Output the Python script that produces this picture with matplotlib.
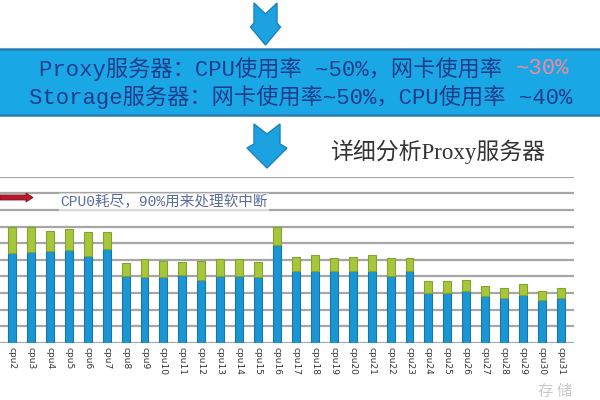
import matplotlib
matplotlib.use("Agg")
from matplotlib import pyplot as plt
from matplotlib.patches import Polygon, Rectangle, FancyArrow
import numpy as np

# ------------------------------------------------------------------
# Datos
# ------------------------------------------------------------------
cpus = ["cpu%d" % i for i in range(2, 32)]
# parte azul (abajo) y total (arriba) en %
azul = [54, 55, 55.4, 56, 52.4, 56.4, 40, 39.6, 39.6, 41,
        38, 40.4, 40.4, 39.6, 58.8, 43, 43, 43, 43, 43,
        40.4, 43, 30, 30.3, 31, 28, 27, 29, 26, 27]
total = [69.7, 70, 67.5, 68.5, 66.5, 67, 48.4, 50.4, 49.4, 48.8,
         49.6, 50.4, 50.4, 48.8, 69.7, 52, 53, 51, 51.6, 52.8,
         51.2, 51.4, 37.3, 37.3, 37.8, 34.3, 33, 35.4, 31.5, 33.3]
verde = [t - a for t, a in zip(total, azul)]
grid_vals = list(range(0, 101, 10))

linea1 = "Proxy服务器：CPU使用率 ~50%，网卡使用率 "
linea1_rojo = "~30%"
linea2 = "Storage服务器：网卡使用率~50%，CPU使用率 ~40%"
titulo = "详细分析Proxy服务器"
nota = "CPU0耗尽，90%用来处理软中断"

fuente_banner = ["Liberation Mono", "Noto Sans CJK SC"]
fuente_titulo = ["Liberation Serif", "Noto Sans CJK SC"]

W, H = 600, 400
fig = plt.figure(figsize=(6, 4), dpi=100)

# ------------------------------------------------------------------
# Gráfica de barras
# ------------------------------------------------------------------
ax = fig.add_axes([0, 1 - 343 / H, 574 / W, (343 - 176.7) / H])
x = np.arange(len(cpus))
for g in grid_vals:
    ax.axhline(g, color="#a6a6a6", lw=1.6, zorder=0)
ax.bar(x, azul, width=0.42, color="#1b96d2", edgecolor="#1676ad", lw=0.8, zorder=2)
ax.bar(x, verde, width=0.42, bottom=azul, color="#a6c63c", edgecolor="#86a22c", lw=0.8, zorder=2)
ax.set_xlim(-0.634, 29.69)
ax.set_ylim(0, 100)
ax.set_yticks([])
ax.set_xticks(x)
ax.set_xticklabels(cpus, rotation=270, fontsize=6.5, color="#333333")
ax.tick_params(axis="x", length=0, pad=3)
for s in ax.spines.values():
    s.set_visible(False)
ax.patch.set_alpha(0)

# ------------------------------------------------------------------
# Capa en píxeles para el banner, flechas y textos
# ------------------------------------------------------------------
ov = fig.add_axes([0, 0, 1, 1], zorder=5)
ov.set_xlim(0, W)
ov.set_ylim(H, 0)
ov.axis("off")
ov.patch.set_alpha(0)

# banner azul
ov.add_patch(Rectangle((-2, 49), W + 4, 66, facecolor="#1aa7e6", edgecolor="#2a7db3", lw=1.8))
t1 = ov.text(39, 69, linea1, fontsize=16, color="#1f3d8c", family=fuente_banner,
             va="center", ha="left")
ov.annotate(linea1_rojo, xy=(1, 0.5), xycoords=t1, fontsize=16, color="#f08a9a",
            family=fuente_banner, va="center", ha="left")
ov.text(301, 97, linea2, fontsize=16, color="#1f3d8c", family=fuente_banner,
        va="center", ha="center")


def flecha(cx, top, notch, shaft_bot, tip, half_shaft, half_head):
    pts = [(cx - half_shaft, top), (cx, notch), (cx + half_shaft, top),
           (cx + half_shaft, shaft_bot), (cx + half_head, shaft_bot + 4),
           (cx, tip), (cx - half_head, shaft_bot + 4), (cx - half_shaft, shaft_bot)]
    ov.add_patch(Polygon(pts, closed=True, facecolor="#1ca2e0", edgecolor="#1a82c0", lw=1))


flecha(265.5, 3, 14, 23, 45, 11.5, 15)
flecha(267, 124, 134, 144, 168, 13, 20)

# titulo
ov.text(438, 152, titulo, fontsize=16.5, color="#333333", family=fuente_titulo,
        va="center", ha="center")

# flecha roja y nota
ov.add_patch(FancyArrow(0, 197.5, 26, 0, width=5, head_width=9, head_length=7,
                        length_includes_head=False, facecolor="#b5182c", edgecolor="#8e1020", lw=0.6))
ov.text(60, 202, nota, fontsize=10.5, color="#5d6c9e", family=fuente_banner,
        va="center", ha="left",
        bbox=dict(facecolor="white", edgecolor="none", alpha=0.6, pad=1))

# marca de agua
ov.text(555, 392, "存 储", fontsize=11, color="#c8c8c8", family=fuente_titulo,
        va="center", ha="center")

fig.savefig("out.png", dpi=100)
